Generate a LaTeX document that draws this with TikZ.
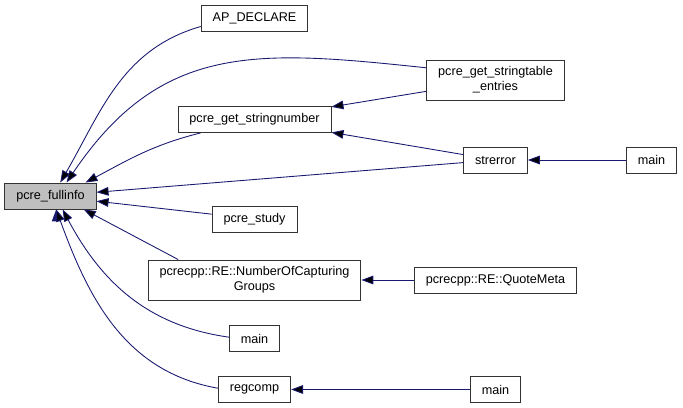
\documentclass[tikz,border=0pt]{standalone}
\usepackage{fontspec}
\setmainfont{Liberation Sans}
\usepackage{xcolor}
\usepackage{tikz}
\usetikzlibrary{arrows.meta, positioning}

\definecolor{edgeblue}{HTML}{191970}
\definecolor{callgray}{HTML}{BFBFBF}

\begin{document}
\begin{tikzpicture}[node distance=2cm, on grid,
    fn/.style={draw=black!80, line width=0.75pt, rectangle, inner xsep=0.345cm,
        minimum height=0.78cm, align=center,
        font=\fontsize{10.8}{12.8}\selectfont},
    twoline/.style={minimum height=1.2cm},
    >={Triangle[length=0.36cm, width=0.26cm]}]
        \useasboundingbox (-1.515,-6.36) rectangle (18.975,5.88);

        \node[fn, fill=callgray] (full) {pcre\_fullinfo};
        \node[fn, above right=2.295 and 6.12 of full] (sn) {pcre\_get\_stringnumber};
        \node[fn, above=3.045 of sn] (apd) {AP\_DECLARE};
        \node[fn, below=2.985 of sn] (study) {pcre\_study};
        \node[fn, twoline, below=1.83 of study] (nocg) {pcrecpp::RE::NumberOfCapturing\\Groups};
        \node[fn, below=1.755 of nocg] (main2) {main};
        \node[fn, below=1.53 of main2] (regcomp) {regcomp};
        \node[fn, below right=1.215 and 7.23 of sn] (strerror) {strerror};
        \node[fn, twoline, above=2.4 of strerror] (ste) {pcre\_get\_stringtable\\\_entries};
        \node[fn, right=4.68 of strerror] (main1) {main};
        \node[fn, right=7.23 of nocg] (qm) {pcrecpp::RE::QuoteMeta};
        \node[fn, right=7.23 of regcomp] (main3) {main};

        \path[<-, draw=edgeblue, line width=0.75pt]
        (full.54) edge [out=60, in=196] (apd.189)
        (full.40) edge [out=56, in=174, looseness=1.15] (ste.170)
        (full.21) edge [out=28, in=194] (sn.194)
        (full) edge (strerror)
        (full) edge (study)
        (full.338) edge (nocg.165)
        (full.312) edge [out=298, in=172] (main2.177)
        (full.293) edge [out=290, in=170] (regcomp.178)
        (sn) edge (ste)
        (sn) edge (strerror)
        (strerror) edge (main1)
        (nocg) edge (qm)
        (regcomp) edge (main3);

    \end{tikzpicture}
\end{document}
